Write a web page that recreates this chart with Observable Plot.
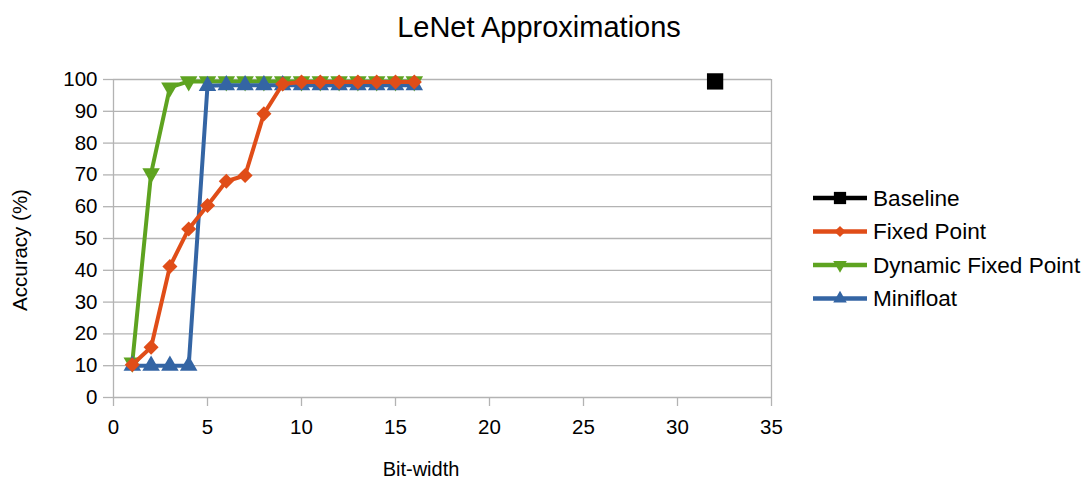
<!DOCTYPE html>
<html>
<head>
<meta charset="utf-8">
<script src="https://cdn.jsdelivr.net/npm/d3@7"></script>
<script src="https://cdn.jsdelivr.net/npm/@observablehq/plot@0.6"></script>
<style>
  html, body { margin: 0; padding: 0; background: #fff; }
  #wrap { position: relative; width: 1087px; height: 479px; font-family: "Liberation Sans", Arial, sans-serif; }
  #wrap svg { position: absolute; left: 0; top: 0; }
</style>
</head>
<body>
<div id="wrap"></div>
<script>
// ---- data ----
const bits = [1,2,3,4,5,6,7,8,9,10,11,12,13,14,15,16];
const fixedPoint = [10.3, 15.8, 41.2, 53.0, 60.4, 68.0, 69.8, 89.2, 98.6, 99.2, 99.2, 99.2, 99.2, 99.2, 99.2, 99.2];
const dynamicFixed = [11, 70.5, 97.5, 99.4, 99.4, 99.4, 99.4, 99.4, 99.4, 99.4, 99.4, 99.4, 99.4, 99.4, 99.4, 99.4];
const minifloat = [10, 10, 10, 10, 98.0, 98.2, 98.2, 98.2, 98.2, 98.2, 98.2, 98.2, 98.2, 98.2, 98.2, 98.2];
const baselineBits = [32];
const baselineAcc = [99.4];
const seriesNames = ["Baseline", "Fixed Point", "Dynamic Fixed Point", "Minifloat"];
const seriesColors = ["#000000", "#e04d18", "#5ea320", "#3465a4"];
const xTicks = [0, 5, 10, 15, 20, 25, 30, 35];
const yTicks = [0, 10, 20, 30, 40, 50, 60, 70, 80, 90, 100];

const toRows = (xs, ys) => xs.map((x, i) => ({x, y: ys[i]}));
const fixedRows = toRows(bits, fixedPoint);
const dynRows = toRows(bits, dynamicFixed);
const miniRows = toRows(bits, minifloat);
const baseRows = toRows(baselineBits, baselineAcc);

const grid = "#b3b3b3";
const font = "Liberation Sans, Arial, sans-serif";

const chart = Plot.plot({
  width: 1087,
  height: 479,
  marginLeft: 113,
  marginRight: 316,
  marginTop: 79,
  marginBottom: 82,
  style: {fontFamily: font, fontSize: "20px", color: "#000", background: "transparent"},
  x: {domain: [0, 35], ticks: xTicks},
  y: {domain: [0, 100], ticks: yTicks},
  marks: [
    Plot.gridY(yTicks, {stroke: grid, strokeOpacity: 1, strokeWidth: 1.3}),
    Plot.ruleX([0, 35], {stroke: grid, strokeWidth: 1.3}),
    Plot.axisY(yTicks, {tickSize: 10, text: null, stroke: grid, strokeWidth: 1.3, label: null}),
    Plot.axisY(yTicks, {tickSize: 0, tickPadding: 16, fontSize: 20.5, fill: "#000", label: null}),
    Plot.axisX(xTicks, {tickSize: 9, text: null, stroke: grid, strokeWidth: 1.3, label: null}),
    Plot.axisX(xTicks, {tickSize: 0, tickPadding: 22, fontSize: 20.5, fill: "#000", label: null}),
    // Dynamic Fixed Point
    Plot.line(dynRows, {x: "x", y: "y", stroke: seriesColors[2], strokeWidth: 4}),
    Plot.dot(dynRows, {x: "x", y: "y", symbol: "triangle", rotate: 180, r: 6.5, fill: seriesColors[2], stroke: "none"}),
    // Minifloat
    Plot.line(miniRows, {x: "x", y: "y", stroke: seriesColors[3], strokeWidth: 4}),
    Plot.dot(miniRows, {x: "x", y: "y", symbol: "triangle", r: 6.5, fill: seriesColors[3], stroke: "none"}),
    // Fixed Point
    Plot.line(fixedRows, {x: "x", y: "y", stroke: seriesColors[1], strokeWidth: 4}),
    Plot.dot(fixedRows, {x: "x", y: "y", symbol: "diamond2", r: 6.8, fill: seriesColors[1], stroke: "none"}),
    // Baseline
    Plot.dot(baseRows, {x: "x", y: "y", symbol: "square", r: 9.2, fill: seriesColors[0], stroke: "none"})
  ]
});
document.getElementById("wrap").appendChild(chart);

// ---- overlay: title, axis labels, legend ----
const ov = d3.select("#wrap").append("svg")
  .attr("width", 1087).attr("height", 479)
  .style("font-family", font);

ov.append("text").attr("x", 539).attr("y", 37).attr("text-anchor", "middle")
  .attr("font-size", 29).text("LeNet Approximations");
ov.append("text").attr("x", 421).attr("y", 476).attr("text-anchor", "middle")
  .attr("font-size", 20).text("Bit-width");
ov.append("text").attr("transform", "translate(27,250) rotate(-90)").attr("text-anchor", "middle")
  .attr("font-size", 20.5).text("Accuracy (%)");

const legendSymbols = [
  {sym: d3.symbolSquare, size: 150, rot: 0},
  {sym: d3.symbolDiamond2, size: 80, rot: 0},
  {sym: d3.symbolTriangle, size: 80, rot: 180},
  {sym: d3.symbolTriangle, size: 80, rot: 0}
];
const rowY = [198, 231.5, 265, 298.5];
seriesNames.forEach((name, i) => {
  const g = ov.append("g").attr("transform", `translate(813,${rowY[i]})`);
  g.append("line").attr("x1", 0).attr("x2", 54).attr("y1", 0).attr("y2", 0)
    .attr("stroke", seriesColors[i]).attr("stroke-width", 4.5);
  g.append("path").attr("d", d3.symbol(legendSymbols[i].sym, legendSymbols[i].size)())
    .attr("transform", `translate(27,0) rotate(${legendSymbols[i].rot})`)
    .attr("fill", seriesColors[i]);
  g.append("text").attr("x", 60).attr("y", 0).attr("dy", "0.35em")
    .attr("font-size", 22.6).text(name);
});
</script>
</body>
</html>
